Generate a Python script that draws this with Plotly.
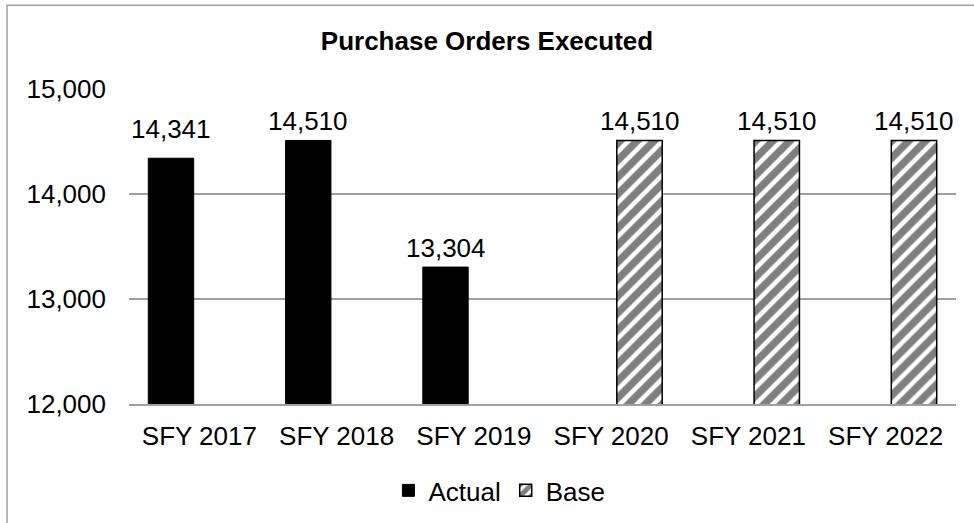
import plotly.graph_objects as go

categories = ["SFY 2017", "SFY 2018", "SFY 2019", "SFY 2020", "SFY 2021", "SFY 2022"]
actual = [14341, 14510, 13304, None, None, None]
base = [None, None, None, 14510, 14510, 14510]
y_ticks = [12000, 13000, 14000, 15000]

W, H = 974, 523
L, R, T, B = 128.5, 18.3, 89.3, 119.3
pw, ph = W - L - R, H - T - B

FONT = "Liberation Sans, Arial, sans-serif"
FS = 26

fig = go.Figure()
fig.add_trace(go.Bar(
    name="Actual", x=categories, y=actual, offsetgroup="a",
    marker=dict(color="black", line=dict(color="black", width=1)),
))
fig.add_trace(go.Bar(
    name="Base", x=categories, y=base, offsetgroup="b",
    marker=dict(color="white", line=dict(color="black", width=1.5),
                pattern=dict(shape="/", fgcolor="black", bgcolor="white",
                             size=12, solidity=0.62, fillmode="overlay")),
))

# value labels above each bar (first label sits a little higher)
slot = 0.5 * (1 - 0.173)
label_lift = [16, 6, 6, 6, 6, 6]
for i, cat in enumerate(categories):
    for vals, dx in ((actual, -slot / 2), (base, slot / 2)):
        v = vals[i]
        if v is None:
            continue
        fig.add_annotation(
            x=i + dx, y=v, xref="x", yref="y", text=f"{v:,}",
            showarrow=False, yanchor="bottom", xanchor="center",
            yshift=label_lift[i] - 4,
            font=dict(size=FS, family=FONT, color="black"),
        )

# outer chart frame
fig.add_shape(type="rect", xref="paper", yref="paper",
              x0=(6.5 - L) / pw, x1=(W + 20 - L) / pw,
              y0=(T + ph - (H + 20)) / ph, y1=(T + ph - 5.7) / ph,
              line=dict(color="#a0a0a0", width=1.5), layer="below")

fig.update_layout(
    width=W, height=H,
    margin=dict(l=L, r=R, t=T, b=B, autoexpand=False),
    paper_bgcolor="white", plot_bgcolor="white",
    barmode="group", bargap=0.173, bargroupgap=0.2,
    font=dict(family=FONT, color="black", size=FS),
    title=dict(text="<b>Purchase Orders Executed</b>", x=0.5, xanchor="center",
               y=1 - 41 / H, yanchor="middle",
               font=dict(size=26, family=FONT, color="black")),
    showlegend=True,
    legend=dict(orientation="h", x=(388 - L) / pw, xanchor="left",
                y=(T + ph - 490) / ph, yanchor="middle",
                font=dict(size=FS, family=FONT), itemwidth=30,
                traceorder="normal"),
    xaxis=dict(showgrid=False, showline=True, linecolor="#a0a0a0", linewidth=1.5,
               ticks="", tickfont=dict(size=FS), ticklabelstandoff=8),
    yaxis=dict(range=[12000, 15000], tickvals=y_ticks, tickformat=",",
               showgrid=True, gridcolor="#a0a0a0", gridwidth=1.5,
               zeroline=False, showline=False, ticks="",
               tickfont=dict(size=FS), ticklabelstandoff=22),
)

fig.write_html("out.html")
